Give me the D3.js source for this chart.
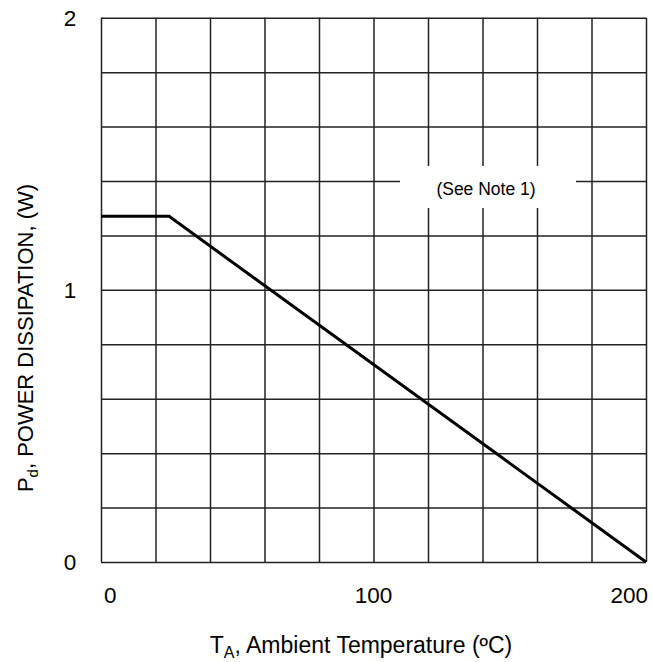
<!DOCTYPE html>
<html>
<head>
  <meta charset="utf-8">
  <script src="https://d3js.org/d3.v7.min.js"></script>
  <style>
    body { margin: 0; background: #fff; }
    svg text { font-family: "Liberation Sans", Arial, sans-serif; fill: #000; }
    .grid line { stroke: #222; stroke-width: 1.5px; }
    .grid .domain { stroke: none; }
  </style>
</head>
<body>
<svg id="chart" width="653" height="662"></svg>
<script>
  // data
  const temps = [0, 25, 200];
  const power = [1.27, 1.27, 0];
  const xTicks = [0, 100, 200];
  const yTicks = [0, 1, 2];
  const xGrid = d3.range(0, 201, 20);
  const yGrid = d3.range(0, 2.001, 0.2);

  const svg = d3.select("#chart");
  const margin = { top: 17.7, right: 7, bottom: 100, left: 101 };
  const width = +svg.attr("width");
  const height = +svg.attr("height");
  const chartWidth = width - margin.left - margin.right;
  const chartHeight = height - margin.top - margin.bottom;

  const x = d3.scaleLinear().domain([0, 200]).range([margin.left, margin.left + chartWidth]);
  const y = d3.scaleLinear().domain([0, 2]).range([margin.top + chartHeight, margin.top]);

  // gridlines
  svg.append("g")
    .attr("class", "grid")
    .attr("transform", `translate(0, ${y(0)})`)
    .call(d3.axisBottom(x).tickValues(xGrid).tickSize(-chartHeight).tickFormat(""));

  svg.append("g")
    .attr("class", "grid")
    .attr("transform", `translate(${x(0)}, 0)`)
    .call(d3.axisLeft(y).tickValues(yGrid).tickSize(-chartWidth).tickFormat(""));

  // white box under the note
  svg.append("rect")
    .attr("x", 400).attr("y", 166)
    .attr("width", 176).attr("height", 42)
    .attr("fill", "#fff");

  svg.append("text")
    .attr("x", 486).attr("y", 195)
    .attr("text-anchor", "middle")
    .style("font-size", "17.5px")
    .text("(See Note 1)");

  // curve
  const line = d3.line().x((d, i) => x(temps[i])).y(d => y(d));
  svg.append("path")
    .datum(power)
    .attr("d", line)
    .attr("fill", "none")
    .attr("stroke", "#000")
    .attr("stroke-width", 3);

  // tick labels
  svg.selectAll("text.xtick").data(xTicks).join("text")
    .attr("class", "xtick")
    .attr("x", (d, i) => x(d) + (i === 0 ? 3 : i === xTicks.length - 1 ? 2 : 0))
    .attr("y", 603)
    .attr("text-anchor", (d, i) => i === 0 ? "start" : i === xTicks.length - 1 ? "end" : "middle")
    .style("font-size", "22.5px")
    .text(d => d);

  svg.selectAll("text.ytick").data(yTicks).join("text")
    .attr("class", "ytick")
    .attr("x", 70)
    .attr("y", d => y(d))
    .attr("dy", "0.36em")
    .attr("text-anchor", "middle")
    .style("font-size", "22.5px")
    .text(d => d);

  // axis titles
  const xTitle = svg.append("text")
    .attr("x", 361)
    .attr("y", 653)
    .attr("text-anchor", "middle")
    .style("font-size", "23px");
  xTitle.append("tspan").text("T");
  xTitle.append("tspan").attr("dy", 5).style("font-size", "16px").text("A");
  xTitle.append("tspan").attr("dy", -5).text(", Ambient Temperature (ºC)");

  const yTitle = svg.append("text")
    .attr("transform", `translate(33, 338) rotate(-90)`)
    .attr("text-anchor", "middle")
    .style("font-size", "22px");
  yTitle.append("tspan").text("P");
  yTitle.append("tspan").attr("dy", 5).style("font-size", "15px").text("d");
  yTitle.append("tspan").attr("dy", -5).text(", POWER DISSIPATION, (W)");
</script>
</body>
</html>
